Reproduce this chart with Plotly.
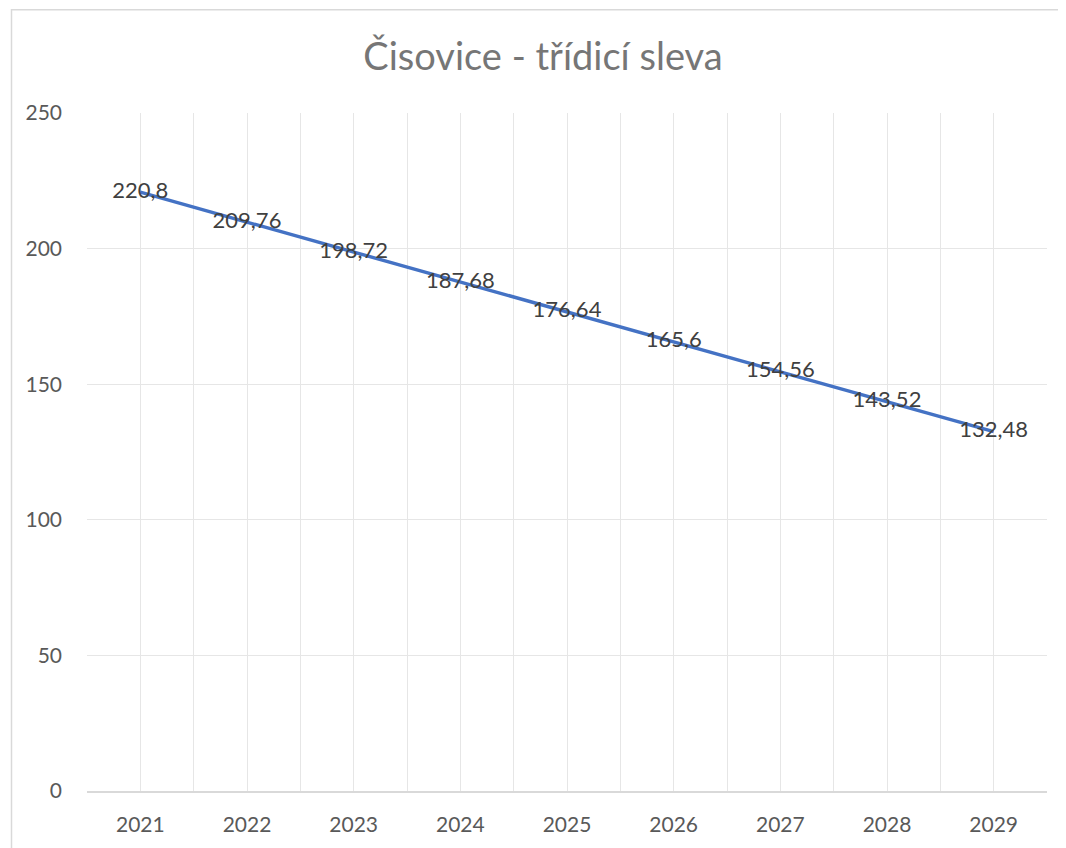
import plotly.graph_objects as go

years = [2021, 2022, 2023, 2024, 2025, 2026, 2027, 2028, 2029]
values = [220.8, 209.76, 198.72, 187.68, 176.64, 165.6, 154.56, 143.52, 132.48]
labels = [f"{v:g}".replace(".", ",") for v in values]
y_ticks = [0, 50, 100, 150, 200, 250]

boundaries = [years[0] - 0.5] + [y + 0.5 for y in years]

# page body adds an 8px offset; figure coordinates are screen coordinates minus 8
OFF = 8
W, H = 1058, 840
L, R, T, B = 87 - OFF, 19, 113 - OFF, 51
pw, ph = W - L - R, H - T - B

FONT = "Lato, Open Sans, sans-serif"

fig = go.Figure()
fig.add_trace(go.Scatter(
    x=years, y=values, mode="lines+text",
    line=dict(color="#4472C4", width=3.4),
    text=labels, textposition="middle center",
    textfont=dict(family=FONT, size=22, color="#404040"),
    cliponaxis=False, hoverinfo="skip", showlegend=False,
))

def px2paper_x(px):
    return (px - OFF - L) / pw

def px2paper_y(py):
    return (H - B - (py - OFF)) / ph

fig.update_layout(
    width=W, height=H,
    margin=dict(l=L, r=R, t=T, b=B),
    paper_bgcolor="white", plot_bgcolor="white",
    title=dict(text="Čisovice - třídicí sleva", x=(543 - OFF) / W, xanchor="center",
               y=1 - (57 - OFF) / H, yanchor="middle", yref="container",
               font=dict(family=FONT, size=38, color="#767676")),
    xaxis=dict(range=[boundaries[0], boundaries[-1]], tickvals=years,
               ticktext=[str(y) for y in years], showgrid=True, gridcolor="#e6e6e6",
               gridwidth=1, showline=True, linecolor="#d9d9d9", linewidth=1.5,
               ticks="", ticklabelstandoff=14, zeroline=False,
               tickfont=dict(family=FONT, size=21, color="#595959"),
               minor=dict(tickvals=boundaries, showgrid=True, gridcolor="#e6e6e6", gridwidth=1)),
    yaxis=dict(range=[0, 250], tickvals=y_ticks, showgrid=True, gridcolor="#e6e6e6",
               gridwidth=1, zeroline=False, showline=False, ticks="",
               ticklabelstandoff=24,
               tickfont=dict(family=FONT, size=21, color="#595959")),
    shapes=[
        dict(type="line", xref="paper", yref="paper",
             x0=px2paper_x(11), x1=px2paper_x(1080), y0=px2paper_y(8.8), y1=px2paper_y(8.8),
             line=dict(color="#d9d9d9", width=1.5)),
        dict(type="line", xref="paper", yref="paper",
             x0=px2paper_x(11.5), x1=px2paper_x(11.5), y0=px2paper_y(8), y1=px2paper_y(860),
             line=dict(color="#d9d9d9", width=1.5)),
    ],
)

fig.write_html("out.html")
